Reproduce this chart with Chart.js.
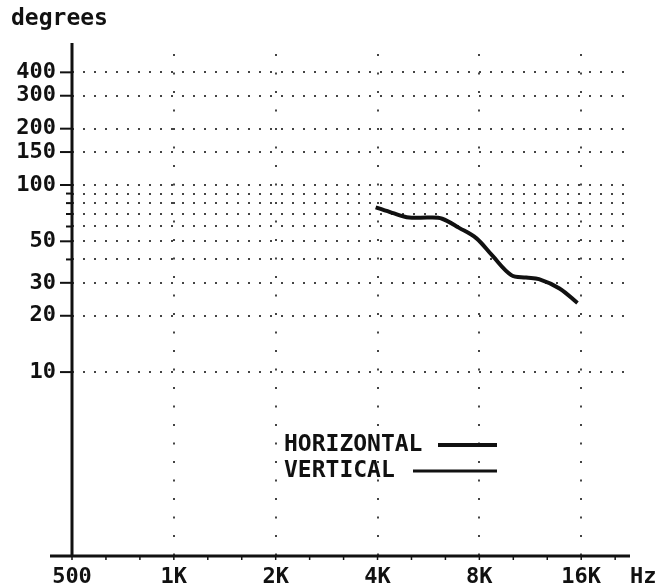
<!DOCTYPE html>
<html>
<head>
<meta charset="utf-8">
<script src="https://cdn.jsdelivr.net/npm/chart.js@4/dist/chart.umd.min.js"></script>
<style>
  html, body { margin: 0; padding: 0; background: #fff; }
  .chart-container { position: relative; width: 671px; height: 586px; }
</style>
</head>
<body>
<div class="chart-container">
  <canvas id="phaseChart"></canvas>
</div>
<script>
// values
const freqs = [3950, 4420, 4960, 5680, 6210, 6970, 7830, 8730, 9940, 11000, 12000, 13800, 15600];
const horizontal = [76, 71, 67, 67, 66, 59, 52, 42, 33, 32, 31.4, 28, 23.4];
const vertical = [];

const xTicks = [500, 1000, 2000, 4000, 8000, 16000];
const xLabels = ['500', '1K', '2K', '4K', '8K', '16K'];
const yTicks = [10, 20, 30, 40, 50, 60, 70, 80, 90, 100, 150, 200, 300, 400];
const yLabeled = [10, 20, 30, 50, 100, 150, 200, 300, 400];

const FONT = '"DejaVu Sans Mono", monospace';
const INK = '#111';

const extras = {
  id: 'extras',
  afterDraw(chart) {
    const ctx = chart.ctx;
    const area = chart.chartArea;
    const xs = chart.scales.x;
    const ys = chart.scales.y;
    ctx.save();
    ctx.strokeStyle = INK;
    ctx.fillStyle = INK;

    // axes
    ctx.lineWidth = 3;
    ctx.beginPath();
    ctx.moveTo(area.left, area.top);
    ctx.lineTo(area.left, area.bottom);
    ctx.moveTo(area.left - 22, area.bottom);
    ctx.lineTo(area.right + 2, area.bottom);
    ctx.stroke();

    // y tick marks
    ctx.lineWidth = 2;
    yTicks.forEach(v => {
      const y = ys.getPixelForValue(v);
      const len = yLabeled.includes(v) ? 12 : 6;
      ctx.beginPath();
      ctx.moveTo(area.left - len, y);
      ctx.lineTo(area.left, y);
      ctx.stroke();
    });

    // x third-octave ticks
    ctx.lineWidth = 1.5;
    for (let k = 0; k <= 16; k++) {
      const x = xs.getPixelForValue(500 * Math.pow(2, k / 3));
      if (x > area.right) break;
      ctx.beginPath();
      ctx.moveTo(x, area.bottom);
      ctx.lineTo(x, area.bottom + 4);
      ctx.stroke();
    }

    // titles
    ctx.font = 'bold 23px ' + FONT;
    ctx.textBaseline = 'middle';
    ctx.textAlign = 'left';
    ctx.fillText('degrees', 11, 19);
    ctx.font = 'bold 22px ' + FONT;
    ctx.fillText('Hz', 630, 577);

    // legend
    const rows = [
      { y: 445, lineStart: 438 },
      { y: 471, lineStart: 413 }
    ];
    ctx.font = 'bold 23px ' + FONT;
    chart.data.datasets.forEach((ds, i) => {
      const r = rows[i];
      ctx.fillText(ds.label, 284, r.y);
      ctx.lineWidth = ds.borderWidth;
      ctx.beginPath();
      ctx.moveTo(r.lineStart, r.y);
      ctx.lineTo(497, r.y);
      ctx.stroke();
    });
    ctx.restore();
  }
};

new Chart(document.getElementById('phaseChart'), {
  type: 'line',
  data: {
    datasets: [
      {
        label: 'HORIZONTAL',
        data: freqs.map((f, i) => ({ x: f, y: horizontal[i] })),
        borderColor: INK,
        borderWidth: 4,
        pointRadius: 0,
        tension: 0.35,
        fill: false
      },
      {
        label: 'VERTICAL',
        data: vertical,
        borderColor: INK,
        borderWidth: 3,
        pointRadius: 0,
        fill: false
      }
    ]
  },
  options: {
    responsive: true,
    maintainAspectRatio: false,
    animation: false,
    layout: { padding: { top: 43, right: 43, left: 0, bottom: 0 } },
    plugins: {
      legend: { display: false },
      tooltip: { enabled: false }
    },
    scales: {
      x: {
        type: 'logarithmic',
        bounds: 'data',
        min: 500,
        max: 22000,
        afterBuildTicks: s => { s.ticks = xTicks.map(v => ({ value: v })); },
        afterFit: s => { s.height = 30; },
        grid: {
          drawTicks: false,
          lineWidth: 2,
          color: c => (c.tick && c.tick.value === 500) ? 'rgba(0,0,0,0)' : '#444'
        },
        border: { display: false, dash: [2, 16.5], dashOffset: 7.5 },
        ticks: {
          autoSkip: false,
          maxRotation: 0,
          padding: 8,
          color: INK,
          font: { family: FONT, size: 22, weight: 'bold' },
          callback: v => {
            const i = xTicks.indexOf(v);
            return i >= 0 ? xLabels[i] : '';
          }
        }
      },
      y: {
        type: 'logarithmic',
        bounds: 'data',
        min: 1.04,
        max: 574,
        afterBuildTicks: s => { s.ticks = yTicks.map(v => ({ value: v })); },
        afterFit: s => { s.width = 72; },
        grid: {
          drawTicks: false,
          lineWidth: 2,
          color: '#444'
        },
        border: { display: false, dash: [2, 9], dashOffset: 0 },
        ticks: {
          autoSkip: false,
          padding: 16,
          color: INK,
          font: { family: FONT, size: 22, weight: 'bold' },
          callback: v => yLabeled.includes(v) ? String(v) : ''
        }
      }
    }
  },
  plugins: [extras]
});
</script>
</body>
</html>
